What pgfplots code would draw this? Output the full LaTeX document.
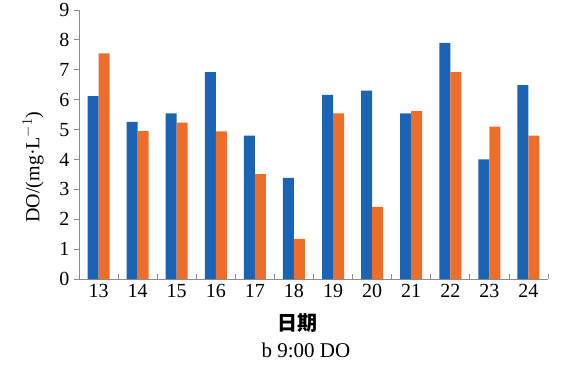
\documentclass[border=0pt]{standalone}
\usepackage{pgfplots}
\pgfplotsset{compat=1.18}
\usepackage{fontspec}
\setmainfont{Liberation Serif}
\newfontfamily\cjk{Noto Sans CJK SC}
\definecolor{cblue}{RGB}{26,99,181}
\definecolor{corange}{RGB}{238,109,42}
\definecolor{axgray}{RGB}{140,140,140}
\begin{document}
\begin{tikzpicture}
\begin{axis}[
  scale only axis, width=469pt, height=269pt,
  xmin=-0.5, xmax=11.5, ymin=0, ymax=9,
  axis x line=bottom, axis y line=left,
  axis line style={axgray, line width=0.8pt, -},
  ybar=0pt, bar width=11pt,
  xtick={0,...,11},
  xticklabels={13,14,15,16,17,18,19,20,21,22,23,24},
  major x tick style={draw=none},
  minor xtick={0.5,1.5,...,11.5},
  minor x tick style={axgray, line width=0.8pt},
  minor tick length=5pt,
  xtick align=inside,
  ytick={0,...,9},
  ytick align=outside, ytick pos=left,
  major y tick style={axgray, line width=0.8pt},
  major tick length=5pt,
  tick label style={font=\fontsize{20}{22}\selectfont, black},
  /pgf/number format/assume math mode=true,
  yticklabel style={xshift=-1pt},
  xticklabel style={yshift=-2pt},
  ylabel={DO/(mg·L$^{-1}$)},
  ylabel style={font=\fontsize{20}{22}\selectfont, at={(axis description cs:-0.098,0.416)}, anchor=center, rotate=0},
  clip=false,
]
\addplot[fill=cblue, draw=none] coordinates {(0,6.12) (1,5.26) (2,5.54) (3,6.92) (4,4.80) (5,3.38) (6,6.16) (7,6.30) (8,5.54) (9,7.90) (10,4.00) (11,6.49)};
\addplot[fill=corange, draw=none] coordinates {(0,7.55) (1,4.95) (2,5.23) (3,4.94) (4,3.51) (5,1.34) (6,5.54) (7,2.41) (8,5.62) (9,6.92) (10,5.10) (11,4.80)};
\coordinate (o) at (rel axis cs:0,0);
\end{axis}
\node[font=\cjk\bfseries\fontsize{20}{22}\selectfont, anchor=center] at ([shift={(218.5pt,-44pt)}]o) {日期};
\node[font=\fontsize{21}{23}\selectfont, anchor=center] at ([shift={(227pt,-71pt)}]o) {b 9:00 DO};
\pgfresetboundingbox
\path[use as bounding box] ([shift={(-79pt,-88pt)}]o) rectangle ++(564pt,367pt);
\end{tikzpicture}
\end{document}
